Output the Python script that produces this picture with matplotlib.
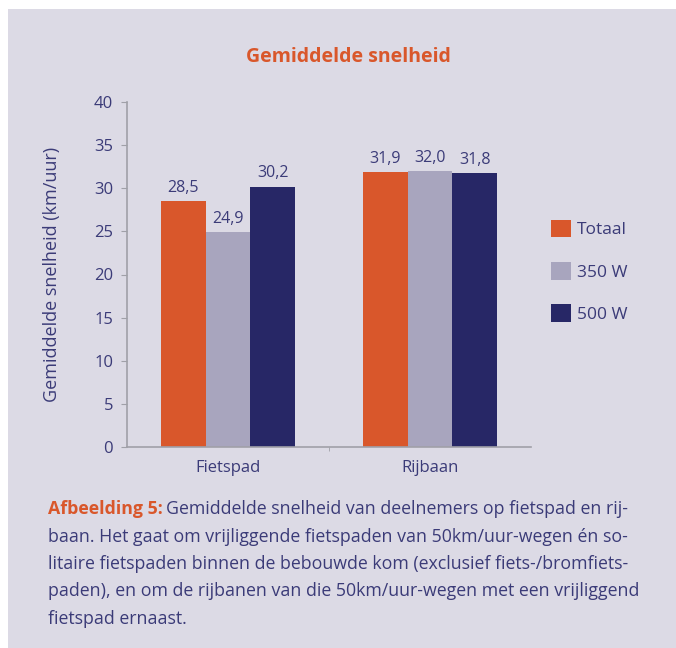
import numpy as np
import matplotlib.pyplot as plt
from matplotlib.patches import Rectangle, Patch

# data
categories = ['Fietspad', 'Rijbaan']
series = ['Totaal', '350 W', '500 W']
totaal = [28.5, 31.9]
w350 = [24.9, 32.0]
w500 = [30.2, 31.8]
yticks = [0, 5, 10, 15, 20, 25, 30, 35, 40]

colors = ['#d9572b', '#a8a5be', '#272766']
bg = '#dcdae5'
txt = '#3b3b78'

plt.rcParams['font.family'] = ['Open Sans', 'DejaVu Sans']

fig = plt.figure(figsize=(6.76, 6.48), dpi=100)
fig.patch.set_facecolor('white')
fig.patches.append(Rectangle((8 / 676, 0), 1, 1 - 9 / 648, transform=fig.transFigure,
                             facecolor=bg, edgecolor='none', zorder=-10))

ax = fig.add_axes([127 / 676, 201 / 648, 404 / 676, 345 / 648])
ax.set_facecolor(bg)

x = np.arange(len(categories))
w = 0.222
for i, (vals, c) in enumerate(zip([totaal, w350, w500], colors)):
    bars = ax.bar(x + (i - 1) * w, vals, w, color=c, label=series[i])
    for b, v in zip(bars, vals):
        ax.text(b.get_x() + b.get_width() / 2, v + 0.6, f'{v:.1f}'.replace('.', ','),
                ha='center', va='bottom', fontsize=11.5, color=txt)

ax.set_xlim(-0.5, 1.5)
ax.set_ylim(0, 40)
ax.set_yticks(yticks)
ax.set_xticks(x)
ax.set_xticklabels(categories)
ax.set_xticks([0.5], minor=True)
ax.tick_params(axis='x', which='major', length=0, pad=9, labelsize=12, labelcolor=txt)
ax.tick_params(axis='x', which='minor', length=3, color='#a0a0a8')
ax.tick_params(axis='y', length=4, color='#a0a0a8', labelsize=12, labelcolor=txt, pad=6)
for s in ['top', 'right']:
    ax.spines[s].set_visible(False)
for s in ['left', 'bottom']:
    ax.spines[s].set_color('#a0a0a8')
    ax.spines[s].set_linewidth(1.2)
ax.set_ylabel('Gemiddelde snelheid (km/uur)', fontsize=13, color=txt, labelpad=24)

fig.text(348 / 676, 1 - 57 / 648, 'Gemiddelde snelheid', ha='center', va='center',
         fontsize=14, fontweight='bold', color='#d9572b')

handles = [Patch(facecolor=c, edgecolor='none') for c in colors]
fig.legend(handles, series, loc='upper left', bbox_to_anchor=(535 / 676, 1 - 204 / 648),
           frameon=False, fontsize=12.5, labelcolor=txt, handlelength=1.2, handleheight=1.2,
           labelspacing=1.35, handletextpad=0.3)

# caption
lines = [
    'Gemiddelde snelheid van deelnemers op fietspad en rij-',
    'baan. Het gaat om vrijliggende fietspaden van 50km/uur-wegen én so-',
    'litaire fietspaden binnen de bebouwde kom (exclusief fiets-/bromfiets-',
    'paden), en om de rijbanen van die 50km/uur-wegen met een vrijliggend',
    'fietspad ernaast.',
]
x0 = 48 / 676
t = fig.text(x0, 1 - 509 / 648, 'Afbeelding 5:', ha='left', va='center',
             fontsize=12.8, fontweight='bold', color='#d9572b')
r = fig.canvas.get_renderer()
bb = t.get_window_extent(renderer=r)
x1 = bb.x1 / fig.bbox.width + 3 / 676
for k, line in enumerate(lines):
    fig.text(x1 if k == 0 else x0, 1 - (509 + 27.5 * k) / 648, line, ha='left', va='center',
             fontsize=12.8, color=txt)

fig.savefig('out.png', dpi=100, facecolor=fig.get_facecolor())
